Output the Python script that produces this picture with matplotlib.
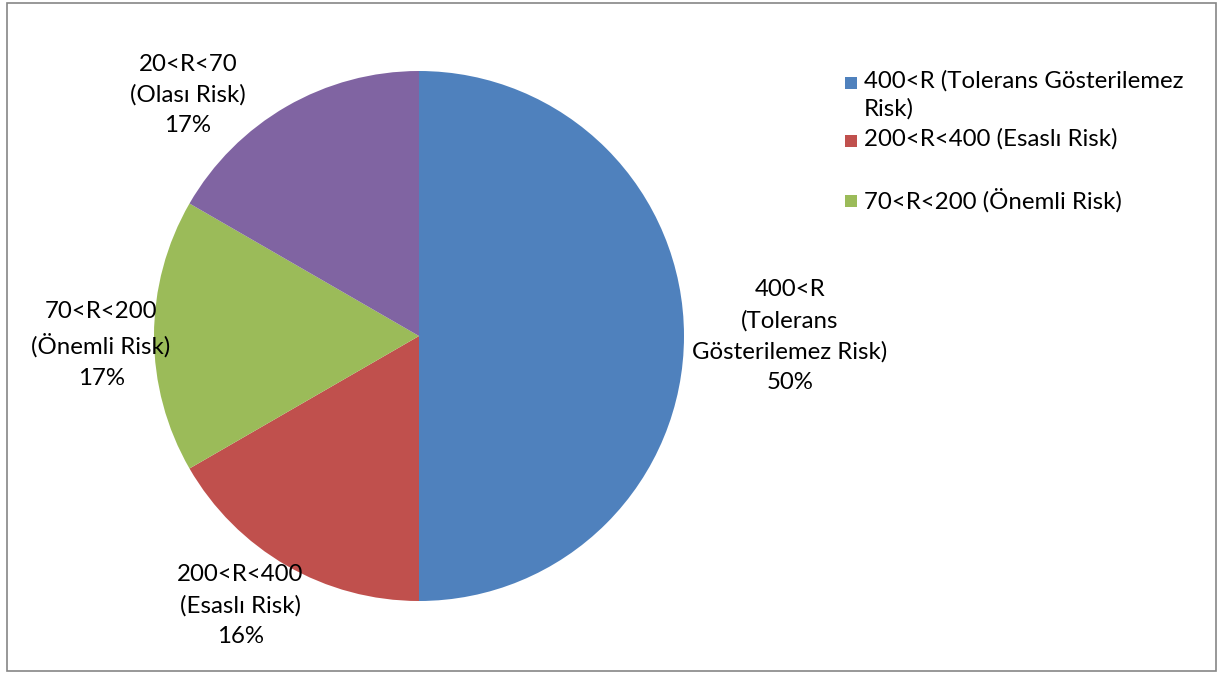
import matplotlib
matplotlib.use("Agg")
import matplotlib.pyplot as plt
from matplotlib.patches import Rectangle
import numpy as np

plt.rcParams['font.family'] = ['Lato', 'DejaVu Sans']

categories = ['400<R (Tolerans Gösterilemez\nRisk)',
              '200<R<400 (Esaslı Risk)',
              '70<R<200 (Önemli Risk)',
              '20<R<70 (Olası Risk)']
values = [3, 1, 1, 1]
pct_labels = ['50%', '16%', '17%', '17%']
slice_labels = ['400<R\n(Tolerans\nGösterilemez Risk)',
                '200<R<400\n(Esaslı Risk)',
                '70<R<200\n(Önemli Risk)',
                '20<R<70\n(Olası Risk)']
colors = ['#4F81BD', '#C0504D', '#9BBB59', '#8064A2']

W, H = 1221, 673
fig = plt.figure(figsize=(W / 100, H / 100), dpi=100)
ax = fig.add_axes([0, 0, 1, 1])

cx, cy, r = 419, H - 336, 265
wedges, _ = ax.pie(values, colors=colors, startangle=90, counterclock=False,
                   center=(cx, cy), radius=r, frame=True)
ax.set_xlim(0, W)
ax.set_ylim(0, H)
ax.axis('off')

fs = 17.3
# label offsets (radius multiple, angle nudge in degrees)
dists = [1.40, 1.22, 1.20, 1.26]
nudge = [0, -3.5, 1.6, 13.8]
for w, lab, pct, d, n in zip(wedges, slice_labels, pct_labels, dists, nudge):
    mid = np.deg2rad((w.theta1 + w.theta2) / 2 + n)
    x = cx + d * r * np.cos(mid)
    y = cy + d * r * np.sin(mid)
    ax.text(x, y, lab + '\n' + pct, ha='center', va='center',
            fontsize=fs, linespacing=1.56, color='black')

# legend (first three entries, as in the original chart)
leg_y = [83, 141, 201]
for w, lab, yy in zip(wedges[:3], categories[:3], leg_y):
    ax.add_patch(Rectangle((845, H - yy - 6), 12, 12,
                           facecolor=w.get_facecolor(), edgecolor='none'))
    ax.text(864, H - yy + 13, lab, ha='left', va='top', fontsize=fs,
            linespacing=1.35, color='black')

fig.patches.append(Rectangle((7 / W, 2 / H), 1209 / W, 668 / H,
                             transform=fig.transFigure, fill=False,
                             edgecolor='#868686', linewidth=1.2))

fig.savefig('out.png', dpi=100)
